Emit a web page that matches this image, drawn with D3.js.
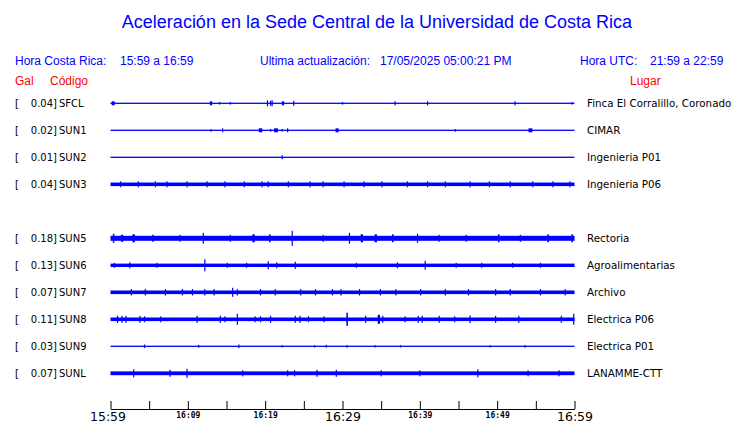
<!DOCTYPE html>
<html>
<head>
<meta charset="utf-8">
<script src="https://cdn.jsdelivr.net/npm/d3@7"></script>
<style>
  body { margin: 0; background: #fff; }
  svg { display: block; }
</style>
</head>
<body>
<div id="chart"></div>
<script>
// station data
const codes  = ["SFCL", "SUN1", "SUN2", "SUN3", "SUN5", "SUN6", "SUN7", "SUN8", "SUN9", "SUNL"]
const slots  = [0, 1, 2, 3, 5, 6, 7, 8, 9, 10]   // SUN4 row is empty
const galMax = [0.04, 0.02, 0.01, 0.04, 0.18, 0.13, 0.07, 0.11, 0.03, 0.07]
const places = ["Finca El Corralillo, Coronado", "CIMAR", "Ingenieria P01", "Ingenieria P06",
                "Rectoria", "Agroalimentarias", "Archivo", "Electrica P06", "Electrica P01", "LANAMME-CTT"]
// background noise level of each trace (relative amplitude)
const noise  = [0.6, 0.6, 0.6, 1.8, 2.5, 1.7, 1.8, 1.8, 0.6, 1.9]
// bursts: [minute after 15:59, amplitude, duration in minutes (optional)]
const bursts = [
  [[0.35,2,0.4],[13.0,2,0.3],[14.1,1.3],[15.5,1.3],[20.3,3],[20.7,2.5],[20.9,3],[22.3,2,0.3],[23.7,2.5],[30.0,1.3],[36.8,2],[41.0,2],[52.3,2],[59.7,1.3]],
  [[13.0,1.3],[14.5,2],[19.4,2,0.45],[20.7,1.3],[21.4,2,0.5],[22.2,1.3],[22.9,2],[29.3,2,0.4],[44.6,1.3],[54.3,2,0.5]],
  [[22.2,2]],
  [[1.3,3],[3.6,3],[5.8,3],[7.3,3],[9.9,3],[12.5,3],[14.8,3],[17.3,3],[19.6,3],[20.4,3],[23,3],[25.8,3],[27.5,3],[30.2,3],[32.8,3],[35.1,3],[38.4,3],[41,3],[43.3,3],[46.5,3],[49,3],[51.7,3],[54.6,3],[57.2,3],[59.4,3]],
  [[0.4,4.5,0.2],[1.5,3.5,0.3],[3,4,0.3],[5.5,3.5,0.2],[9,3.5],[12,5.5],[15.5,3.5],[18.5,4,0.3],[20.6,4,0.2],[23.5,7.5],[27.5,3.5],[30.9,5.5],[32.5,4,0.3],[34.3,4,0.3],[36.5,4,0.2],[39.7,4.5],[42.5,3.5],[46,3.5],[50.2,4,0.2],[53,3.5],[56.6,4,0.2],[59.7,4,0.2]],
  [[0.5,2.5],[2.5,3],[6,2.5],[12.2,6],[15.1,2.5],[17.6,2.5],[20.4,4],[21.5,3],[23.9,3.5],[31.8,2.5],[37.1,3],[40.7,4.5],[44.7,2.5],[48,2.5],[52,2.5],[55.6,2.5]],
  [[2.7,3.2],[4.5,3.2],[7.1,3.2],[9.3,3.2],[10.6,3.2],[12.2,3.2],[13.4,3.2],[15.8,4.5],[16.4,3.2],[19.4,3.2],[21.3,3.2],[24.6,3.2],[26.5,3.2],[28.7,3.2],[29.8,3.2],[32.2,3.2],[34.9,3.2],[36.9,3.2],[40.1,3.2],[43.3,3.2],[46.3,3.2],[49.8,3.2],[51.7,3.2],[55.6,3.2],[58.8,3.2]],
  [[0.9,3.5],[1.5,3.5],[2,3.5],[3.8,3.5],[4.4,3],[6.5,3],[11.2,3.5],[14.2,3.5],[14.8,3],[16.4,5.5],[18.7,3],[19.4,3],[20.7,3.5],[23.9,3.5],[24.5,3.5],[25.6,3],[27.6,3],[30.6,6.5,0.2],[33,3.5],[34.7,4.5,0.3],[35.2,3.5],[38.1,3],[39.8,3.5],[40.3,3.5],[42.5,3.5],[44.5,3],[46.5,4],[49.8,3.5],[52.8,3.5],[58.3,3.5],[59.9,5.5]],
  [[4.4,1.8],[11.4,1.4],[16.6,1.8],[22.2,1.2],[26.4,1.2],[27.9,1.4],[30.6,1.4],[34.2,1.2],[37.5,1.2],[49.1,1.2],[53.6,1.4]],
  [[3.0,4],[7.7,3.5],[9.9,4.5],[17.1,3],[22.9,3],[23.8,3],[26.7,3.5],[29.2,3.5],[35,3],[40,3],[47.5,4],[54,3],[58,3]]
]
// axis ticks (minutes after 15:59) and their labels
const tickMinutes = [0, 5, 10, 15, 20, 25, 30, 35, 40, 45, 50, 55, 60]
const tickLabels  = {0: "15:59", 10: "16:09", 20: "16:19", 30: "16:29", 40: "16:39", 50: "16:49", 60: "16:59"}
const bigTicks    = [0, 30, 60]

const blue = "#0000ff", red = "#ff0000"

const svg = d3.select("#chart").append("svg")
    .attr("width", 740)
    .attr("height", 423)

// scales
const x = d3.scaleLinear().domain([0, 60]).range([110.5, 574.5])
const y = d3.scaleLinear().domain([0, 10]).range([103.3, 373.3])
const amp = d3.scaleLinear().domain([0, 10]).range([0, 10])

// title and header
svg.append("text")
    .attr("x", 377).attr("y", 28)
    .attr("text-anchor", "middle")
    .attr("font-family", "Liberation Sans, Arial, sans-serif")
    .attr("font-size", 18)
    .attr("fill", blue)
    .text("Aceleración en la Sede Central de la Universidad de Costa Rica")

const header = [
  ["Hora Costa Rica:", 15], ["15:59 a 16:59", 120],
  ["Ultima actualización:", 260], ["17/05/2025 05:00:21 PM", 380],
  ["Hora UTC:", 580], ["21:59 a 22:59", 650]
]
svg.selectAll(".hdr").data(header).enter().append("text")
    .attr("x", d => d[1]).attr("y", 65)
    .attr("font-family", "Liberation Sans, Arial, sans-serif")
    .attr("font-size", 12)
    .attr("fill", blue)
    .text(d => d[0])

const redHeader = [["Gal", 15], ["Código", 50], ["Lugar", 630]]
svg.selectAll(".rhdr").data(redHeader).enter().append("text")
    .attr("x", d => d[1]).attr("y", 85)
    .attr("font-family", "Liberation Sans, Arial, sans-serif")
    .attr("font-size", 12)
    .attr("fill", red)
    .text(d => d[0])

// rows
const rows = codes.map((c, i) => ({code: c, slot: slots[i], gal: galMax[i], place: places[i], noise: noise[i], bursts: bursts[i]}))

const row = svg.selectAll(".row").data(rows).enter().append("g")
    .attr("class", "row")
    .attr("transform", d => `translate(0,${y(d.slot)})`)

const lblFont = "DejaVu Sans, sans-serif"
row.append("text").attr("x", 15).attr("y", 4)
    .attr("font-family", lblFont).attr("font-size", 10).text("[")
row.append("text").attr("x", 57).attr("y", 4).attr("text-anchor", "end")
    .attr("font-family", lblFont).attr("font-size", 10).text(d => d3.format(".2f")(d.gal) + "]")
row.append("text").attr("x", 59).attr("y", 4)
    .attr("font-family", lblFont).attr("font-size", 10).text(d => d.code)
row.append("text").attr("x", 587).attr("y", 4)
    .attr("font-family", lblFont).attr("font-size", 10.3).text(d => d.place)

// trace background band
row.append("rect")
    .attr("x", x(0))
    .attr("width", x(60) - x(0))
    .attr("y", d => -Math.max(amp(d.noise), 0.65))
    .attr("height", d => 2 * Math.max(amp(d.noise), 0.65))
    .attr("fill", blue)

// bursts
row.selectAll(".burst").data(d => d.bursts).enter().append("rect")
    .attr("x", b => x(b[0]) - (b[2] ? (x(b[2]) - x(0)) / 2 : 0.6))
    .attr("width", b => b[2] ? x(b[2]) - x(0) : 1.2)
    .attr("y", b => -amp(b[1]))
    .attr("height", b => 2 * amp(b[1]))
    .attr("fill", blue)

// time axis
const axis = svg.append("g")
    .attr("transform", "translate(0,409)")
    .call(d3.axisBottom(x)
        .tickValues(tickMinutes)
        .tickSizeInner(-8)
        .tickSizeOuter(0)
        .tickPadding(0)
        .tickFormat(m => tickLabels[m] || ""))
axis.select(".domain").attr("stroke", "#000")
axis.selectAll(".tick line").attr("stroke", "#000")
axis.selectAll(".tick text")
    .attr("fill", "#000")
    .attr("dy", null)
    .attr("y", m => bigTicks.includes(m) ? 12 : 9)
    .attr("dx", m => m === 0 ? -3 : 0)
    .attr("font-family", m => bigTicks.includes(m) ? "DejaVu Sans, sans-serif" : "DejaVu Sans Mono, monospace")
    .attr("font-weight", m => bigTicks.includes(m) ? "normal" : "bold")
    .attr("font-size", m => bigTicks.includes(m) ? 12.5 : 8)
</script>
</body>
</html>
